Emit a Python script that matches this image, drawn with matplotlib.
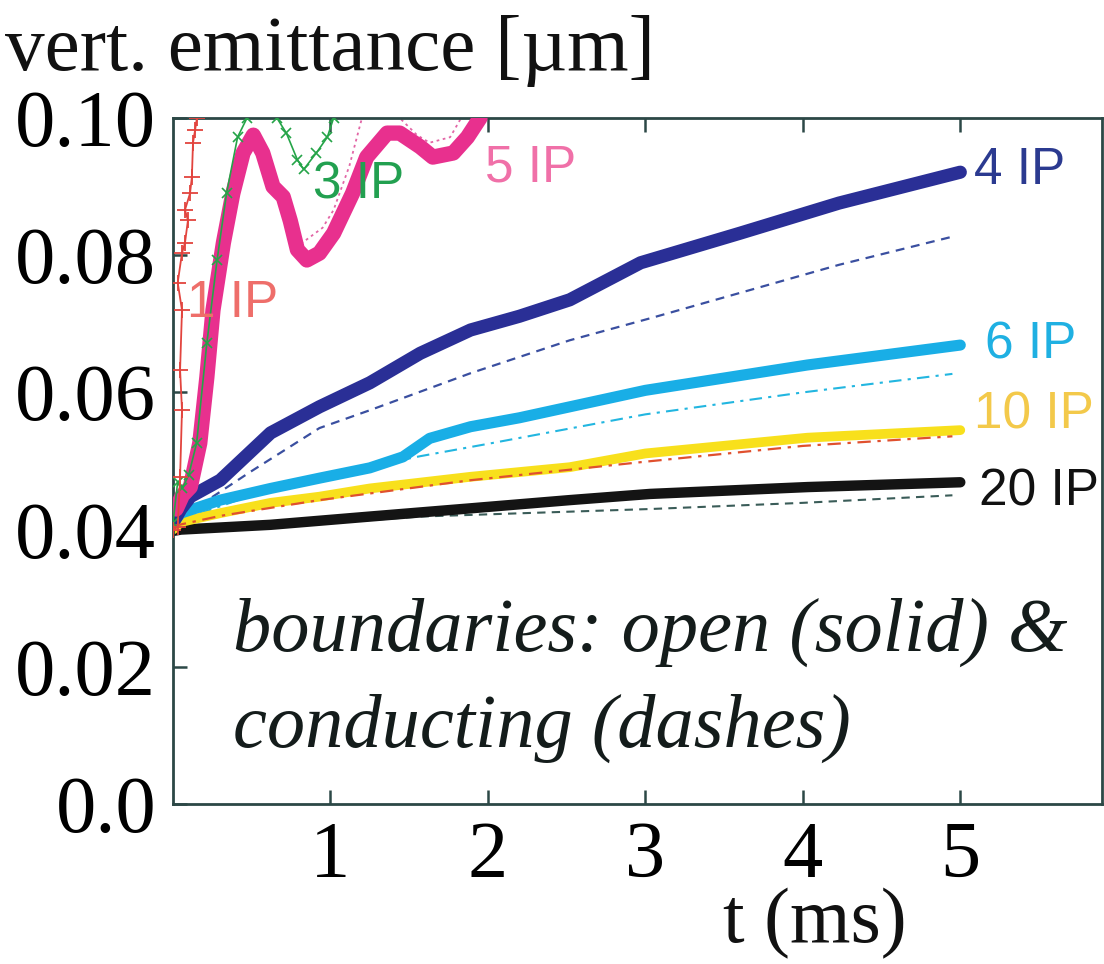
import numpy as np
import matplotlib
matplotlib.use("Agg")
import matplotlib.pyplot as plt

# vertical emittance growth vs time for different numbers of IPs
# solid = open boundaries, dashed = conducting boundaries

t_1ip = [0.0, 0.03, 0.045, 0.057, 0.045, 0.057, 0.03, 0.057, 0.076, 0.095, 0.076, 0.108, 0.12, 0.127, 0.14, 0.152]
e_1ip = [0.040, 0.0404, 0.0477, 0.0574, 0.0633, 0.072, 0.076, 0.0803, 0.0818, 0.0851, 0.0866, 0.089, 0.0914, 0.0964, 0.0982, 0.1]

t_3ip = [0.0, 0.03, 0.06, 0.1, 0.15, 0.215, 0.28, 0.34, 0.41, 0.47, 0.55, 0.66, 0.72, 0.79, 0.83, 0.91, 0.98, 1.02, 1.06]
e_3ip = [0.041, 0.047, 0.046, 0.048, 0.0526, 0.0672, 0.0793, 0.089, 0.0972, 0.1, 0.104, 0.1, 0.0978, 0.0939, 0.0925, 0.0949, 0.0972, 0.1, 0.103]

t_5ip = [0.02, 0.06, 0.11, 0.17, 0.215, 0.254, 0.32, 0.38, 0.445, 0.51, 0.57, 0.635, 0.70, 0.745, 0.79, 0.85, 0.93,
         1.02, 1.14, 1.23, 1.36, 1.44, 1.57, 1.65, 1.78, 1.87, 1.95]
e_5ip = [0.043, 0.045, 0.0462, 0.0526, 0.0622, 0.072, 0.0818, 0.089, 0.0949, 0.0975, 0.0949, 0.090, 0.0885, 0.085, 0.0808, 0.0793, 0.0803,
         0.0832, 0.089, 0.0943, 0.0978, 0.0978, 0.0958, 0.0943, 0.0949, 0.0972, 0.1]
t_5ip_c = [0.05, 0.17, 0.254, 0.32, 0.445, 0.51, 0.6, 0.7, 0.82, 0.95, 1.02, 1.12, 1.2, 1.32, 1.44, 1.55, 1.63, 1.76, 1.83, 1.9]
e_5ip_c = [0.044, 0.0526, 0.072, 0.0818, 0.0949, 0.0975, 0.093, 0.088, 0.0818, 0.084, 0.0866, 0.093, 0.1, 0.103, 0.1, 0.0975, 0.0964, 0.0972, 0.1, 0.102]

t_4ip = [0.0, 0.05, 0.11, 0.3, 0.62, 0.93, 1.25, 1.57, 1.89, 2.2, 2.52, 2.97, 3.6, 4.23, 5.0]
e_4ip = [0.041, 0.043, 0.0448, 0.0472, 0.0541, 0.0579, 0.0614, 0.0657, 0.0691, 0.0711, 0.0735, 0.0789, 0.0832, 0.0876, 0.0921]
t_4ip_c = [0.0, 0.2, 0.49, 0.93, 1.25, 1.89, 2.52, 3.03, 3.6, 4.23, 4.95]
e_4ip_c = [0.041, 0.044, 0.0484, 0.0548, 0.0574, 0.0628, 0.0676, 0.0708, 0.0745, 0.0786, 0.0827]

t_6ip = [0.0, 0.05, 0.3, 0.62, 0.93, 1.25, 1.46, 1.63, 1.89, 2.2, 2.52, 3.0, 4.03, 5.0]
e_6ip = [0.041, 0.0424, 0.0443, 0.046, 0.0475, 0.049, 0.0506, 0.0533, 0.055, 0.0563, 0.0579, 0.0603, 0.064, 0.0669]
t_6ip_c = [0.0, 0.5, 1.0, 1.57, 2.0, 3.0, 4.0, 4.95]
e_6ip_c = [0.041, 0.045, 0.048, 0.0507, 0.0525, 0.0568, 0.060, 0.0627]

t_10ip = [0.0, 0.05, 0.3, 0.62, 0.93, 1.25, 1.89, 2.52, 3.0, 4.03, 5.0]
e_10ip = [0.040, 0.0411, 0.0424, 0.0439, 0.0448, 0.046, 0.0477, 0.0491, 0.0511, 0.0534, 0.0545]
t_10ip_c = [0.0, 0.3, 0.93, 1.89, 3.0, 4.0, 4.95]
e_10ip_c = [0.0405, 0.042, 0.0443, 0.0472, 0.0499, 0.0522, 0.0536]

t_20ip = [0.0, 0.05, 0.62, 1.25, 1.89, 2.52, 3.03, 4.03, 5.0]
e_20ip = [0.0398, 0.040, 0.0407, 0.0419, 0.0431, 0.0443, 0.0452, 0.0462, 0.0469]
t_20ip_c = [0.0, 1.0, 1.57, 3.03, 4.0, 4.95]
e_20ip_c = [0.040, 0.041, 0.0419, 0.043, 0.0439, 0.045]

ip_labels = ["1 IP", "3 IP", "5 IP", "4 IP", "6 IP", "10 IP", "20 IP"]
label_t = [0.09, 0.89, 1.98, 5.09, 5.16, 5.09, 5.12]
label_e = [0.0730, 0.0902, 0.0927, 0.0924, 0.0669, 0.0567, 0.0455]
label_colors = ["#ee6e6a", "#22a050", "#f070a8", "#2b3a90", "#1fb0e2", "#f3c94a", "#111111"]

yticks = [0.0, 0.02, 0.04, 0.06, 0.08, 0.10]
ytick_labels = ["0.0", "0.02", "0.04", "0.06", "0.08", "0.10"]
xticks = [1, 2, 3, 4, 5]

serif = "Liberation Serif"
sans = "Liberation Sans"
spine_col = "#2c4846"

fig = plt.figure(figsize=(11.04, 9.64), dpi=100)
W, H = 1104, 964
ax = fig.add_axes([173 / W, 1 - 804 / H, (1102 - 173) / W, (804 - 118) / H])
ax.set_xlim(0, 5.9)
ax.set_ylim(0, 0.10)

# conducting boundaries (thin, dashed)
ax.plot(t_4ip_c, e_4ip_c, color="#3a4fa0", lw=1.6, dashes=(4, 3))
ax.plot(t_6ip_c, e_6ip_c, color="#22b6e0", lw=1.5, dashes=(6, 3, 1.5, 3))
ax.plot(t_10ip_c, e_10ip_c, color="#e0502e", lw=1.6, dashes=(6, 3, 1.5, 3), zorder=3)
ax.plot(t_20ip_c, e_20ip_c, color="#3a5c58", lw=1.5, dashes=(4, 3))
ax.plot(t_5ip_c, e_5ip_c, color="#e266a6", lw=1.3, dashes=(1.5, 2))

# open boundaries (thick, solid)
thick = dict(solid_capstyle="round", solid_joinstyle="round", zorder=2)
ax.plot(t_20ip, e_20ip, color="#141414", lw=7.5, **thick)
ax.plot(t_10ip, e_10ip, color="#f8e01c", lw=7, **thick)
ax.plot(t_6ip, e_6ip, color="#19aee6", lw=8, **thick)
ax.plot(t_4ip, e_4ip, color="#2a2f96", lw=9.5, **thick)
ax.plot(t_5ip, e_5ip, color="#e8308e", lw=11, solid_capstyle="round", solid_joinstyle="round", zorder=4)
ax.plot(t_3ip, e_3ip, color="#25a448", lw=1.2, marker="x", ms=7, mew=1.2, zorder=5)
ax.plot(t_1ip, e_1ip, color="#e2443e", lw=1.3, marker="+", ms=11, mew=1.3, zorder=5)

for lab, tx, ey, c in zip(ip_labels, label_t, label_e, label_colors):
    ax.text(tx, ey, lab, color=c, fontsize=37, family=sans, va="center", ha="left",
            clip_on=False, zorder=6)

ax.text(0.38, 0.0224, "boundaries: open (solid) &", family=serif, style="italic",
        fontsize=55, color="#141c1b", va="baseline")
ax.text(0.38, 0.0083, "conducting (dashes)", family=serif, style="italic",
        fontsize=55, color="#141c1b", va="baseline")

ax.set_yticks(yticks)
ax.set_yticklabels(ytick_labels)
ax.set_xticks(xticks)
ax.tick_params(direction="in", length=10, width=1.8, color=spine_col,
               labelsize=58, pad=12, top=True, right=False)
for lbl in ax.get_xticklabels() + ax.get_yticklabels():
    lbl.set_family(serif)
for sp in ax.spines.values():
    sp.set_color(spine_col)
    sp.set_linewidth(2)

fig.text(5 / W, 1 - 70 / H, "vert. emittance [µm]", family=serif, fontsize=57,
         va="baseline", ha="left", color="#111111")
fig.text(815 / W, 1 - 942 / H, "t (ms)", family=serif, fontsize=56,
         va="baseline", ha="center", color="#111111")

fig.savefig("out.png", dpi=100)
